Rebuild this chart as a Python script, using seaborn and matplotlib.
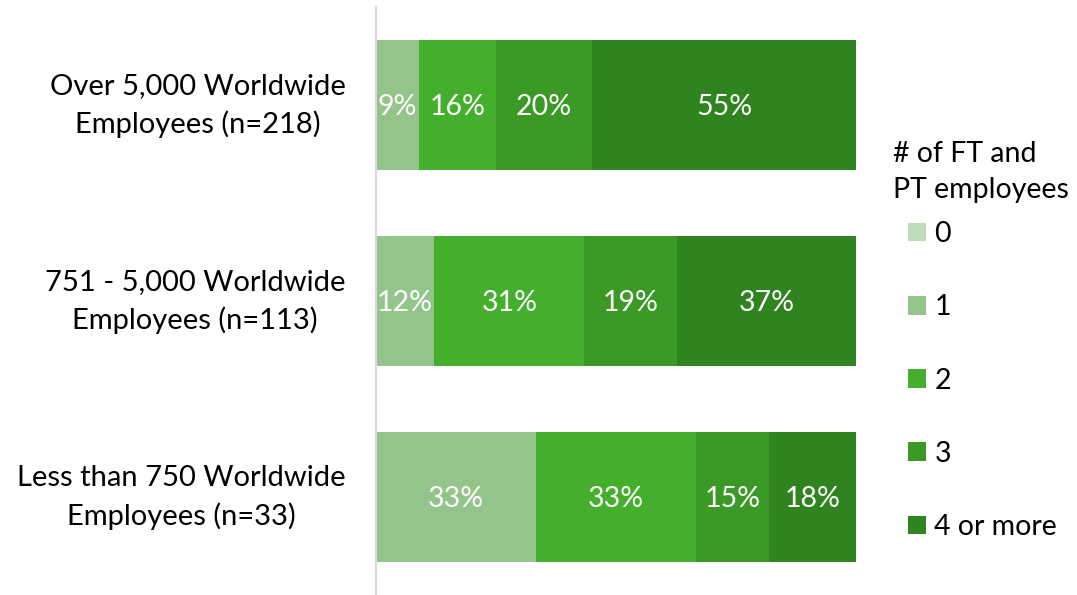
import numpy as np
import pandas as pd
import matplotlib
matplotlib.use("Agg")
import matplotlib.pyplot as plt
import seaborn as sns
from matplotlib.patches import Patch

categories = ["Over 5,000 Worldwide\nEmployees (n=218)",
              "751 - 5,000 Worldwide\nEmployees (n=113)",
              "Less than 750 Worldwide\nEmployees (n=33)"]
series = ["0", "1", "2", "3", "4 or more"]
v0 = [0, 0, 0]
v1 = [9, 12, 33]
v2 = [16, 31, 33]
v3 = [20, 19, 15]
v4 = [55, 37, 18]
colors = ["#bcdcbc", "#93c58a", "#43af2c", "#3b9a26", "#2f8420"]

sns.set_theme(style="white")
plt.rcParams['font.family'] = ['Lato', 'DejaVu Sans']

vals = np.array([v0, v1, v2, v3, v4], dtype=float)
shares = vals / vals.sum(axis=0) * 100
cum = np.cumsum(shares, axis=0)

fig = plt.figure(figsize=(10.77, 5.95), dpi=100)
ax = fig.add_axes([376/1077, 0.0, 480/1077, 1 - 7/595])

for i in range(len(series) - 1, -1, -1):
    df = pd.DataFrame({"cat": categories, "x": cum[i]})
    sns.barplot(data=df, x="x", y="cat", color=colors[i], width=0.66,
                linewidth=0, ax=ax, orient="h", saturation=1)

for i in range(len(series)):
    for j in range(len(categories)):
        if vals[i, j] > 0:
            center = cum[i, j] - shares[i, j] / 2
            ax.text(center, j + 0.01, f"{int(vals[i, j])}%", ha="center",
                    va="center", color="white", fontsize=20.5)

ax.set_xlim(0, 100)
ax.set_ylim(2.5, -0.5)
ax.set_xlabel("")
ax.set_ylabel("")
ax.set_xticks([])
ax.set_yticks(range(len(categories)))
ax.set_yticklabels([])
ax.tick_params(axis="y", length=0)
for j, cat in enumerate(categories):
    ax.annotate(cat, xy=(0, j), xycoords=("axes fraction", "data"),
                xytext=(-22, -0.5), textcoords="offset points",
                ha="right", va="center", ma="center", fontsize=21,
                color="black", linespacing=1.5)
for s in ["top", "right", "bottom"]:
    ax.spines[s].set_visible(False)
ax.spines["left"].set_color("#d9d9d9")
ax.spines["left"].set_linewidth(1.5)

fig.text(893/1077, 1 - 172/595, "# of FT and\nPT employees", ha="left",
         va="center", fontsize=20.5, color="black", linespacing=1.5)

handles = [Patch(facecolor=c, edgecolor="none") for c in colors]
leg = fig.legend(handles, series,
                 loc="upper left", bbox_to_anchor=(908/1077, 1 - 221/595),
                 frameon=False, fontsize=20.5, labelcolor="black",
                 handlelength=0.63, handleheight=0.63, handletextpad=0.3,
                 labelspacing=1.66, borderaxespad=0, borderpad=0)

fig.savefig("out.png", dpi=100)
